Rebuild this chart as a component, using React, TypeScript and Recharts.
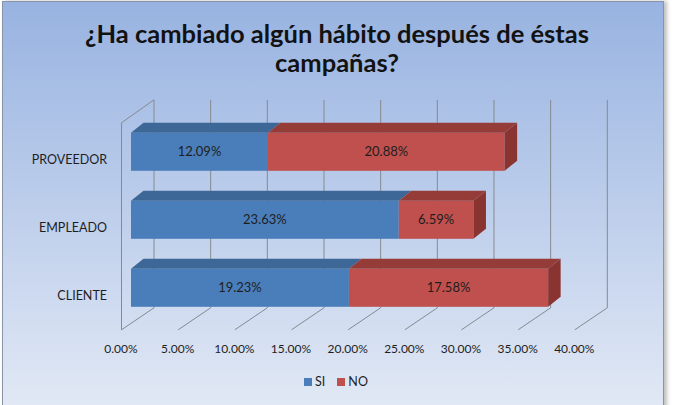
import React from 'react';
import { BarChart, Bar, XAxis, YAxis, CartesianGrid, LabelList } from 'recharts';

// Survey answers per group, in percent
const categories = ['PROVEEDOR', 'EMPLEADO', 'CLIENTE'];
const siValues = [12.09, 23.63, 19.23];
const noValues = [20.88, 6.59, 17.58];
const xTicks = [0, 5, 10, 15, 20, 25, 30, 35, 40];

const titleLines = ['¿Ha cambiado algún hábito después de éstas', 'campañas?'];

const series = [
  { key: 'si', name: 'SI', front: '#4a7ebb', top: '#3c6796', side: '#355d8a' },
  { key: 'no', name: 'NO', front: '#c0504d', top: '#953c39', side: '#8a3431' },
];

const data = categories.map((name, i) => ({ name, si: siValues[i], no: noValues[i] }));

const FONT = 'Lato, "Noto Sans", sans-serif';
const W = 674;
const H = 405;

// bar extrusion
const DX = 12.5;
const DY = 10;

const pct = (v: number) => `${Number(v).toFixed(2)}%`;

const make3DBar = (s: typeof series[number], withSide: boolean) => (p: any) => {
  const { x, y, width, height } = p;
  if (!width || width <= 0) return <g />;
  return (
    <g>
      <rect x={x} y={y} width={width} height={height} fill={s.front} />
      <polygon
        points={`${x},${y} ${x + DX},${y - DY} ${x + width + DX},${y - DY} ${x + width},${y}`}
        fill={s.top}
      />
      {withSide && (
        <polygon
          points={`${x + width},${y} ${x + width + DX},${y - DY} ${x + width + DX},${y + height - DY} ${x + width},${y + height}`}
          fill={s.side}
        />
      )}
    </g>
  );
};

// back-wall gridlines, floor lines and the left wall outline
const gridLine = (p: any) => {
  const x = p.x1;
  const top = p.y1;
  const bottom = p.y2;
  const bx = x + 23;
  const fx = x - 9.5;
  const backTop = top - 18;
  const backBottom = bottom - 14;
  const front = bottom + 8;
  const stroke = '#868a90';
  return (
    <g key={`grid-${p.index}-${x}`}>
      <line x1={bx} y1={backTop} x2={bx} y2={backBottom} stroke={stroke} strokeWidth={1} />
      <line x1={bx} y1={backBottom} x2={fx} y2={front} stroke={stroke} strokeWidth={1} />
      {p.index === 0 && (
        <polyline
          points={`${fx},${front} ${fx},${top + 5} ${bx},${backTop}`}
          fill="none"
          stroke={stroke}
          strokeWidth={1}
        />
      )}
    </g>
  );
};

const XTick = (p: any) => (
  <text x={p.x - 10} y={353} textAnchor="middle" fontSize={12} fill="#1e1e1e" fontFamily={FONT}>
    {pct(p.payload.value)}
  </text>
);

const YTick = (p: any) => (
  <text x={107} y={p.y + 12} textAnchor="end" fontSize={12.5} fill="#1e1e1e" fontFamily={FONT}>
    {p.payload.value}
  </text>
);

export default function App() {
  return (
    <div
      style={{
        position: 'absolute',
        left: 0,
        top: 0,
        width: W,
        height: H,
        background: '#ffffff',
        overflow: 'hidden',
        fontFamily: FONT,
      }}
    >
      <div
        style={{
          position: 'absolute',
          left: 2,
          top: 1,
          width: 662,
          height: 410,
          boxSizing: 'border-box',
          border: '1px solid #8895a8',
          background: 'linear-gradient(to bottom, #98b3e1 0%, #b9cbea 45%, #e2e9f5 100%)',
          boxShadow: '3px 0 4px rgba(0,0,0,0.25)',
        }}
      />
      <div
        style={{
          position: 'absolute',
          left: 2,
          top: 19,
          width: 670,
          textAlign: 'center',
          fontWeight: 700,
          fontSize: 25.5,
          lineHeight: '29px',
          color: '#121212',
        }}
      >
        {titleLines.map((t) => (
          <div key={t}>{t}</div>
        ))}
      </div>
      <div style={{ position: 'absolute', left: 0, top: 0 }}>
        <BarChart
          width={W}
          height={H}
          data={data}
          layout="vertical"
          margin={{ top: 117.8, right: 89.7, bottom: 53.2, left: 31 }}
          barCategoryGap={0}
        >
          <CartesianGrid horizontal={false} vertical={gridLine} />
          <XAxis
            type="number"
            domain={[0, 40]}
            ticks={xTicks}
            axisLine={false}
            tickLine={false}
            tick={<XTick />}
            height={30}
            interval={0}
          />
          <YAxis
            type="category"
            dataKey="name"
            width={100}
            axisLine={false}
            tickLine={false}
            tick={<YTick />}
            interval={0}
          />
          {series.map((s, i) => (
            <Bar
              key={s.key}
              dataKey={s.key}
              name={s.name}
              stackId="answers"
              barSize={38}
              fill={s.front}
              isAnimationActive={false}
              shape={make3DBar(s, i === series.length - 1)}
            >
              <LabelList
                dataKey={s.key}
                position="center"
                formatter={(v: any) => pct(v)}
                fill="#1e1e1e"
                fontSize={13}
                fontFamily={FONT}
              />
            </Bar>
          ))}
        </BarChart>
      </div>
      <div
        style={{
          position: 'absolute',
          left: 0,
          top: 374,
          width: W - 2,
          display: 'flex',
          justifyContent: 'center',
          gap: 12,
          fontSize: 12.5,
          color: '#1e1e1e',
          lineHeight: '16px',
        }}
      >
        {series.map((s) => (
          <div key={s.key} style={{ display: 'flex', alignItems: 'center', gap: 3 }}>
            <span style={{ display: 'inline-block', width: 8, height: 8, background: s.front }} />
            <span>{s.name}</span>
          </div>
        ))}
      </div>
    </div>
  );
}
